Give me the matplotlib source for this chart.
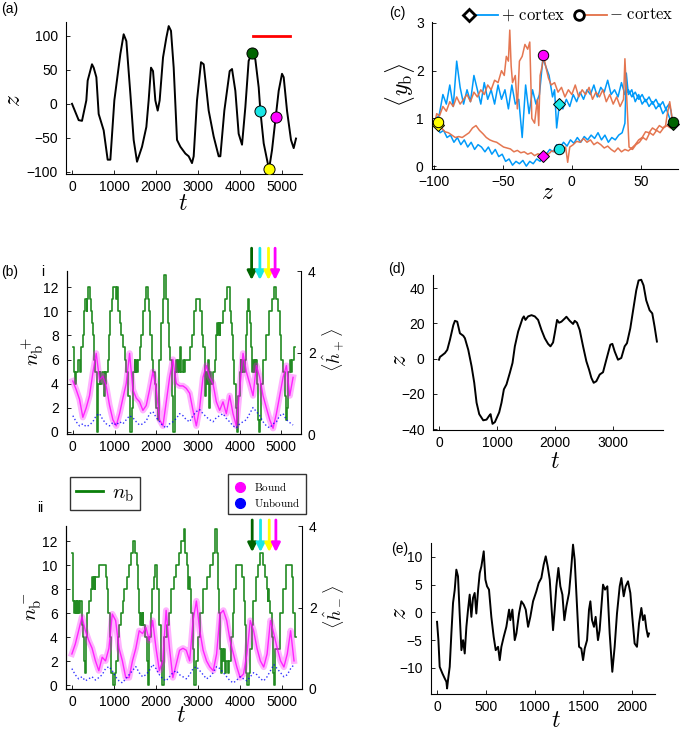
import numpy as np
import matplotlib
matplotlib.use("Agg")
import matplotlib.pyplot as plt
from matplotlib.lines import Line2D

plt.rcParams.update({"font.family": "Liberation Sans", "mathtext.fontset": "cm",
                     "axes.linewidth": 0.8, "font.size": 10})

# ---------- (a) z(t) ----------
a_pts = [(0, 0), (159, -24), (238, -25), (341, 5), (373, 34), (476, 58), (516, 53), (580, 39),
         (635, -15), (754, -39), (849, -82), (913, -82), (1008, 5), (1151, 73), (1230, 102),
         (1294, 92), (1389, 15), (1468, -53), (1548, -85), (1667, -63), (1770, -34), (1825, 5),
         (1881, 53), (1929, 48), (1984, 5), (2040, -10), (2087, 5), (2167, 68), (2246, 97),
         (2302, 114), (2357, 107), (2421, 53), (2500, -53), (2580, -63), (2699, -73), (2778, -77),
         (2857, -87), (2897, -77), (2976, 5), (3072, 61), (3135, 58), (3254, -10), (3373, -48),
         (3492, -77), (3532, -77), (3627, -10), (3754, 48), (3810, 51), (3889, 19), (3968, -44),
         (4048, -60), (4127, -5), (4206, 63), (4286, 75), (4365, 65), (4445, 24), (4484, -10),
         (4564, -58), (4643, -82), (4691, -96), (4762, -68), (4849, -20), (4921, 19), (5000, 44),
         (5040, 39), (5119, -10), (5214, -53), (5278, -65), (5333, -51)]
a_t, a_z = zip(*a_pts)
red_t = [4300, 5200]
red_z = [100, 100]
mark_t = [4286, 4484, 4691, 4849]
mark_z = [74, -10, -96, -20]
mark_col = ["#006400", "#19E6E6", "#FFFF00", "#FF00FF"]

# ---------- (b) n_b steps + mean bound / unbound ----------
nbp_pts = [(0, 7), (20, 5), (60, 4), (80, 5), (120, 6), (160, 5), (200, 7), (240, 8), (270, 10), (300, 11),
           (330, 10), (350, 11), (370, 12), (410, 11), (430, 10), (460, 9), (480, 8), (510, 6), (540, 5),
           (570, 2), (580, 0), (600, 4), (640, 5), (660, 4), (700, 5), (740, 3), (760, 5), (780, 4), (800, 5),
           (840, 6), (870, 8), (900, 10), (940, 11), (970, 12), (1040, 11), (1060, 12), (1080, 10), (1120, 9),
           (1160, 8), (1200, 7), (1240, 6), (1280, 5), (1330, 3), (1380, 0), (1420, 2), (1450, 5), (1480, 6),
           (1500, 5), (1520, 6), (1540, 5), (1570, 6), (1600, 7), (1640, 8), (1680, 10), (1720, 11), (1750, 12),
           (1800, 11), (1830, 10), (1860, 8), (1900, 6), (1930, 5), (1970, 4), (2000, 2), (2040, 1), (2070, 6),
           (2110, 9), (2150, 11), (2190, 13), (2240, 11), (2270, 9), (2300, 7), (2340, 6), (2380, 3), (2400, 0),
           (2440, 5), (2480, 6), (2500, 5), (2520, 6), (2540, 5), (2580, 7), (2600, 5), (2640, 6), (2660, 5),
           (2700, 6), (2820, 7), (2860, 8), (2900, 10), (2950, 11), (3060, 10), (3100, 8), (3130, 7), (3160, 5),
           (3180, 3), (3200, 5), (3220, 4), (3240, 6), (3260, 2), (3280, 5), (3320, 4), (3360, 5), (3400, 6),
           (3440, 8), (3460, 9), (3480, 8), (3500, 9), (3520, 8), (3540, 9), (3600, 10), (3650, 11), (3700, 12),
           (3760, 10), (3790, 9), (3810, 8), (3840, 6), (3870, 4), (3900, 2), (3940, 0), (3970, 3), (4000, 5),
           (4020, 6), (4040, 5), (4060, 6), (4080, 5), (4120, 6), (4150, 8), (4170, 10), (4200, 11), (4230, 10),
           (4250, 9), (4270, 7), (4300, 5), (4320, 6), (4340, 5), (4360, 6), (4380, 5), (4400, 6), (4420, 4),
           (4450, 1), (4470, 0), (4490, 1), (4510, 4), (4560, 6), (4630, 8), (4700, 10), (4780, 11), (4830, 12),
           (4880, 11), (4920, 10), (4960, 8), (5000, 6), (5040, 5), (5080, 3), (5110, 1), (5140, 2), (5160, 5),
           (5200, 6), (5230, 5), (5260, 6), (5300, 7), (5330, 7)]
nbm_pts = [(0, 11), (20, 10), (35, 7), (50, 6), (70, 7), (90, 6), (110, 7), (130, 6), (150, 7), (170, 6),
           (200, 7), (230, 5), (260, 4), (290, 2), (310, 1), (340, 4), (370, 6), (410, 7), (450, 8), (480, 9),
           (500, 8), (520, 9), (540, 8), (560, 9), (640, 10), (800, 9), (830, 8), (860, 6), (900, 4), (940, 1),
           (980, 0), (1020, 1), (1060, 2), (1090, 4), (1130, 5), (1170, 6), (1210, 7), (1250, 8), (1300, 9),
           (1350, 10), (1400, 11), (1460, 12), (1510, 11), (1540, 10), (1570, 8), (1600, 6), (1620, 5), (1640, 6),
           (1660, 5), (1680, 6), (1700, 5), (1740, 4), (1780, 2), (1800, 0), (1830, 4), (1870, 6), (1910, 8),
           (1940, 9), (1980, 10), (2030, 8), (2070, 5), (2110, 2), (2150, 0), (2190, 4), (2250, 5), (2300, 6),
           (2360, 8), (2420, 9), (2480, 10), (2540, 11), (2600, 12), (2660, 13), (2700, 11), (2730, 10),
           (2760, 8), (2780, 9), (2800, 8), (2830, 6), (2870, 3), (2900, 0), (2960, 2), (3000, 4), (3040, 6),
           (3120, 8), (3200, 9), (3280, 10), (3360, 11), (3400, 13), (3440, 11), (3470, 8), (3490, 6), (3510, 3),
           (3540, 1), (3570, 3), (3590, 2), (3610, 3), (3630, 1), (3660, 2), (3700, 1), (3740, 2), (3780, 4),
           (3820, 6), (3860, 8), (3900, 10), (4050, 9), (4080, 7), (4110, 5), (4140, 1), (4170, 0), (4200, 1),
           (4230, 3), (4270, 5), (4310, 7), (4370, 9), (4430, 10), (4480, 11), (4550, 10), (4590, 9), (4630, 8),
           (4650, 7), (4670, 8), (4690, 7), (4710, 6), (4750, 4), (4790, 1), (4810, 0), (4840, 3), (4940, 6),
           (5020, 8), (5100, 10), (5200, 10), (5230, 9), (5260, 6), (5300, 4), (5330, 4)]

t_avg = np.arange(0, 5281, 80)
bound_p = [1.3, 1.09, 0.85, 0.41, 0.64, 0.94, 1.5, 1.98, 1.33, 1.42, 1.18, 0.70, 0.35, 0.2, 0.5, 0.88,
           1.24, 1.98, 1.09, 0.88, 0.79, 0.58, 0.70, 1.09, 1.53, 1.09, 0.35, 0.2, 0.79, 1.39, 1.83, 1.24,
           1.18, 1.18, 1.12, 1.0, 0.58, 0.2, 0.64, 1.39, 1.68, 1.39, 1.24, 0.79, 0.58, 0.79, 0.5, 0.94,
           0.5, 0.2, 1.09, 1.98, 1.53, 1.24, 0.94, 1.68, 1.39, 0.94, 0.64, 0.35, 0.14, 0.5, 0.94, 1.39,
           1.68, 0.94, 1.39]
bound_m = [0.86, 1.1, 1.43, 1.77, 1.43, 1.19, 1.0, 0.69, 0.45, 0.78, 0.69, 1.0, 1.84, 1.68, 1.0, 0.69,
           0.28, 0.28, 0.69, 1.0, 1.43, 1.36, 1.51, 1.19, 1.68, 1.0, 0.45, 0.69, 1.93, 1.0, 0.28, 0.61,
           0.95, 1.0, 0.95, 0.69, 1.68, 2.16, 1.43, 0.95, 0.69, 0.54, 0.45, 0.86, 1.84, 1.93, 1.68, 1.19,
           0.86, 0.54, 0.28, 0.37, 0.86, 1.68, 1.43, 1.0, 0.69, 0.54, 0.86, 1.68, 1.36, 1.0, 0.69, 0.54,
           0.86, 1.43, 0.69]
unbound_p = [0.45, 0.3, 0.2, 0.25, 0.18, 0.22, 0.3, 0.45, 0.5, 0.35, 0.25, 0.2, 0.28, 0.22, 0.3, 0.25,
             0.35, 0.45, 0.4, 0.3, 0.22, 0.25, 0.32, 0.5, 0.55, 0.4, 0.3, 0.2, 0.15, 0.25, 0.3, 0.38,
             0.5, 0.45, 0.35, 0.3, 0.45, 0.55, 0.6, 0.5, 0.42, 0.35, 0.3, 0.4, 0.45, 0.5, 0.38, 0.3,
             0.2, 0.15, 0.25, 0.3, 0.35, 0.5, 0.65, 0.55, 0.45, 0.3, 0.2, 0.15, 0.25, 0.3, 0.45, 0.5,
             0.35, 0.28, 0.22]
unbound_m = [0.5, 0.35, 0.25, 0.3, 0.2, 0.25, 0.3, 0.22, 0.28, 0.35, 0.5, 0.55, 0.45, 0.3, 0.2, 0.15,
             0.25, 0.35, 0.45, 0.55, 0.4, 0.3, 0.35, 0.45, 0.6, 0.5, 0.35, 0.25, 0.2, 0.3, 0.4, 0.45,
             0.35, 0.3, 0.25, 0.35, 0.5, 0.55, 0.45, 0.35, 0.25, 0.3, 0.4, 0.55, 0.5, 0.4, 0.3, 0.2,
             0.15, 0.22, 0.3, 0.25, 0.2, 0.3, 0.4, 0.35, 0.25, 0.2, 0.3, 0.45, 0.6, 0.5, 0.4, 0.3,
             0.35, 0.5, 0.6]

# ---------- (c) <y_b> vs z ----------
blue_dn = [(73, 0.9), (72, 1.15), (70.5, 1.3), (68, 1.2), (66, 1.35), (63.5, 1.25), (61, 1.4), (58.5, 1.3),
           (56, 1.45), (53.5, 1.35), (51, 1.5), (48.5, 1.4), (46, 1.55), (43.5, 1.45), (41, 1.6), (38.5, 1.5),
           (36, 1.75), (33.5, 1.45), (31, 1.6), (28.5, 1.5), (26, 1.8), (23.5, 1.55), (21, 1.65), (18.5, 1.45),
           (16, 1.7), (13.5, 1.5), (11, 1.6), (8.5, 1.4), (6, 1.55), (3.5, 1.35), (1, 1.5), (-1.5, 1.25),
           (-4, 1.4), (-6.5, 1.2), (-9, 1.3), (-11, 0.8), (-12.5, 1.6), (-14, 1.45), (-16.5, 1.9), (-19, 2.1),
           (-21, 2.25), (-23.5, 1.5), (-26, 1.3), (-28.5, 1.6), (-31, 1.1), (-33.5, 1.7), (-36, 0.6),
           (-38.5, 1.4), (-41, 1.3), (-43.5, 1.7), (-46, 1.2), (-48.5, 1.6), (-51, 1.4), (-53.5, 1.7),
           (-56, 1.3), (-58.5, 1.6), (-61, 1.4), (-63.5, 1.75), (-66, 1.3), (-68.5, 1.6), (-71, 1.9),
           (-73.5, 1.35), (-76, 1.6), (-78.5, 1.3), (-81, 1.65), (-83.5, 2.2), (-86, 1.25), (-88.5, 1.7),
           (-91, 1.3), (-93.5, 1.5), (-96, 1.1), (-98.5, 0.95), (-100, 0.85)]
blue_up = [(-100, 0.85), (-98, 0.8), (-95.5, 0.7), (-93, 0.75), (-90.5, 0.6), (-88, 0.65), (-85.5, 0.5),
           (-83, 0.6), (-80.5, 0.45), (-78, 0.55), (-75.5, 0.4), (-73, 0.5), (-70.5, 0.35), (-68, 0.45),
           (-65.5, 0.4), (-63, 0.3), (-60.5, 0.4), (-58, 0.25), (-55.5, 0.35), (-53, 0.2), (-50.5, 0.25),
           (-48, 0.1), (-45.5, 0.15), (-43, 0.02), (-40.5, 0.1), (-38, 0.05), (-35.5, 0.12), (-33, 0.0),
           (-30.5, 0.1), (-28, 0.05), (-25.5, 0.15), (-23, 0.1), (-21, 0.21), (-18.5, 0.25), (-16, 0.35),
           (-13.5, 0.3), (-11, 0.45), (-8.5, 0.4), (-6, 0.5), (-3.5, 0.42), (-1, 0.55), (1.5, 0.48), (4, 0.6),
           (6.5, 0.5), (9, 0.62), (11.5, 0.55), (14, 0.65), (16.5, 0.58), (19, 0.7), (21.5, 0.55), (24, 0.65),
           (26.5, 0.5), (29, 0.6), (31.5, 0.55), (34, 0.65), (36.5, 0.7), (38.5, 0.9), (39.5, 1.95), (41, 1.5),
           (43.5, 1.6), (46, 1.35), (48.5, 1.5), (51, 1.3), (53.5, 1.4), (56, 1.25), (58.5, 1.35), (61, 1.2),
           (63.5, 1.3), (66, 1.1), (68.5, 1.2), (71, 1.0), (73, 0.9)]
orange_dn = [(73, 0.93), (72, 1.15), (71, 1.35), (70, 1.2), (69, 1.05), (68, 0.85), (66, 0.8), (63.5, 0.85),
             (61, 0.75), (58.5, 0.8), (56, 0.7), (53.5, 0.72), (51, 0.6), (48.5, 0.55), (46, 0.45),
             (43.5, 0.38), (41, 0.32), (38.5, 0.35), (36, 0.3), (33.5, 0.38), (31, 0.3), (28.5, 0.35),
             (26, 0.42), (23.5, 0.38), (21, 0.45), (18.5, 0.5), (16, 0.45), (13.5, 0.55), (11, 0.5),
             (8.5, 0.58), (6, 0.5), (3.5, 0.52), (1, 0.45), (-1.5, 0.4), (-3, 0.08), (-4.5, 0.4), (-7, 0.35),
             (-9.5, 0.35), (-12, 0.3), (-14.5, 0.32), (-17, 0.25), (-19.5, 0.28), (-22, 0.22), (-24.5, 0.26),
             (-27, 0.22), (-29.5, 0.28), (-32, 0.25), (-34.5, 0.3), (-37, 0.28), (-39.5, 0.33), (-42, 0.3),
             (-44.5, 0.36), (-47, 0.38), (-49.5, 0.4), (-52, 0.45), (-54.5, 0.5), (-57, 0.52), (-59.5, 0.55),
             (-62, 0.6), (-64.5, 0.68), (-67, 0.75), (-69.5, 0.85), (-72, 0.8), (-74.5, 0.7), (-77, 0.65),
             (-79.5, 0.6), (-82, 0.62), (-84.5, 0.6), (-87, 0.65), (-89.5, 0.7), (-92, 0.72), (-94.5, 0.8),
             (-97, 0.85), (-99, 0.95)]
orange_up = [(-99, 0.95), (-98, 1.1), (-96, 1.05), (-93.5, 1.25), (-91, 1.15), (-88.5, 1.35), (-86, 1.25),
             (-83.5, 1.45), (-81, 1.3), (-78.5, 1.4), (-76, 1.5), (-73.5, 1.35), (-71, 1.55), (-68.5, 1.45),
             (-66, 1.6), (-63.5, 1.5), (-61, 1.7), (-58.5, 1.6), (-56, 1.8), (-53.5, 1.75), (-51, 2.0),
             (-49, 1.9), (-47.5, 2.3), (-46, 2.2), (-45, 2.85), (-44, 2.1), (-43, 1.75), (-41, 1.9),
             (-39.5, 1.2), (-38, 2.2), (-36, 2.3), (-34, 2.55), (-32, 2.45), (-30.5, 2.6), (-29, 1.0),
             (-27, 0.9), (-25, 1.4), (-24, 0.85), (-23, 1.9), (-21.5, 2.1), (-20.5, 2.33), (-19, 2.1),
             (-17, 1.85), (-15, 1.7), (-12.5, 1.75), (-10, 1.55), (-7.5, 1.65), (-5, 1.45), (-2.5, 1.6),
             (0, 1.5), (2.5, 1.7), (5, 1.45), (7.5, 1.6), (10, 1.5), (12.5, 1.65), (15, 1.4), (17.5, 1.55),
             (20, 1.45), (22.5, 1.6), (25, 1.35), (27.5, 1.5), (30, 1.3), (32.5, 1.45), (35, 1.25),
             (37.5, 1.4), (38.5, 2.25), (40, 1.3), (41.5, 0.4), (44, 0.35), (46.5, 0.45), (49, 0.5),
             (51.5, 0.6), (54, 0.55), (56.5, 0.7), (59, 0.65), (61.5, 0.75), (64, 0.7), (66.5, 0.8),
             (69, 0.85), (71.5, 0.8), (73, 0.93)]
c_mark_z = [73.5, -9, -97, -21]
c_plus_y = [0.88, 1.3, 0.87, 0.21]
c_minus_y = [0.93, 0.35, 0.93, 2.33]

# ---------- (d) and (e) z(t) ----------
d_pts = [(0, -0.6), (17, 1), (46, 1.7), (103, 3.2), (143, 5), (189, 10.7), (247, 19), (275, 21.5), (315, 21),
         (361, 14.4), (419, 13), (447, 11.6), (505, 5), (562, -4.3), (608, -13.7), (648, -25), (694, -31.5),
         (763, -35), (820, -34.6), (866, -32.4), (889, -31.5), (923, -37), (964, -36), (1038, -30.5),
         (1078, -25), (1119, -17.4), (1164, -14.6), (1222, -8), (1268, -2.4), (1308, 7), (1365, 15.4),
         (1440, 22.8), (1463, 24), (1491, 22), (1537, 24), (1595, 24.7), (1652, 24), (1709, 22), (1767, 16.3),
         (1824, 11.6), (1881, 8.4), (1922, 7), (1967, 9.2), (1996, 14.4), (2036, 22), (2071, 20.4),
         (2111, 21), (2168, 22.8), (2197, 23.8), (2254, 21.5), (2312, 19.7), (2340, 21.5), (2380, 20.4),
         (2426, 16.3), (2484, 7), (2541, -1.5), (2587, -6.2), (2627, -10.9), (2667, -13.7), (2713, -12.8),
         (2771, -9), (2828, -7.7), (2885, -0.6), (2954, 7.9), (2989, 8.4), (3029, 4.1), (3086, -0.6),
         (3143, 0.4), (3201, 7), (3241, 8.8), (3298, 17.2), (3356, 29.4), (3401, 38.8), (3441, 44.4),
         (3487, 44.8), (3527, 41.6), (3573, 33.1), (3631, 27.5), (3677, 25.7), (3717, 18.2), (3757, 9.7)]
e_pts = [(0, -1.7), (14, -5), (27, -9.8), (55, -11), (79, -11.9), (96, -12.5), (103, -13.7), (113, -12.1),
         (130, -9.8), (147, -3.8), (164, 1.7), (181, 4), (198, 7.7), (215, 6.5), (232, -0.2), (250, -6.8),
         (267, -5), (284, -7.4), (301, -2.6), (318, 0.5), (335, 3.2), (352, -0.8), (369, 2.6), (386, 3.5),
         (403, -0.2), (421, 4), (438, 7.1), (455, 8.3), (479, 11), (496, 5.9), (513, 4.7), (533, 4.1),
         (557, -0.8), (581, -4.4), (602, -6.8), (626, -6.2), (643, -8.6), (660, -6.2), (684, -4.4),
         (711, -2.6), (739, 0.5), (752, -1.4), (773, 0.5), (797, -5), (814, -3.8), (841, -0.2), (865, 2),
         (889, 1.4), (910, 0.5), (934, -2.6), (957, -0.8), (985, 2), (1019, 3.8), (1043, 5.3), (1070, 6.2),
         (1094, 8.6), (1115, 10.1), (1135, 8.3), (1156, 5.9), (1176, 0.5), (1190, -3.2), (1207, 0.5),
         (1224, 4.7), (1245, 8), (1265, 4.7), (1286, 3.2), (1306, -1.4), (1327, 1.1), (1354, 3.5),
         (1378, 8.3), (1395, 12.2), (1412, 9.5), (1436, 1.1), (1457, -6.2), (1480, -6.5), (1498, -8.6),
         (1515, -6.5), (1539, -5), (1559, 0.5), (1573, 2), (1590, -1.4), (1610, -2.6), (1627, -0.8),
         (1651, -5), (1668, -3.2), (1703, 5), (1723, 4.1), (1747, 4.7), (1771, -3.8), (1798, -10.7),
         (1822, -6.2), (1846, -0.2), (1874, 4.7), (1891, 6.2), (1915, 2.9), (1935, 4.7), (1959, 5.6),
         (1983, 3.5), (2003, -0.8), (2027, -5.6), (2051, -6.2), (2072, -2), (2096, 0.8), (2113, -1.4),
         (2130, -0.5), (2147, -2.9), (2164, -4.4), (2174, -3.8)]

BLUE = "#009AFA"; ORANGE = "#E36F47"; GREEN = "#0A7F0A"; MAG = "#FF00FF"

W, H = 685, 733
fig = plt.figure(figsize=(6.85, 7.33), dpi=100)


def box(l, t, r, b):
    return [l / W, 1 - b / H, (r - l) / W, (b - t) / H]


def ftext(x, y, s, size=17, rot=0, **kw):
    fig.text(x / W, 1 - y / H, s, ha="center", va="center", rotation=rot, fontsize=size, **kw)


def style(ax, right=False):
    ax.spines["top"].set_visible(False)
    if not right:
        ax.spines["right"].set_visible(False)
    ax.tick_params(direction="in", length=3, width=0.6, labelsize=10)
    ax.tick_params(axis="y", pad=6)
    ax.tick_params(axis="x", pad=4)


# (a)
ax = fig.add_axes(box(66, 22, 302, 174))
ax.plot(a_t, a_z, color="black", lw=1.4)
ax.plot(red_t, red_z, color="red", lw=2)
for t, z, c in zip(mark_t, mark_z, mark_col):
    ax.plot(t, z, "o", ms=8, mfc=c, mec="black", mew=0.7, zorder=5)
ax.set_xlim(-143, 5476); ax.set_ylim(-103, 120)
ax.set_xticks([0, 1000, 2000, 3000, 4000, 5000]); ax.set_yticks([-100, -50, 0, 50, 100])
style(ax)
ftext(183, 204, "$t$"); ftext(14, 100, "$z$", rot=90)
ftext(10, 9, "(a)", size=10)


# (b)
def panel_b(rect, nb, bound, unbound, arr0, arr1, ylo, yhi):
    ax = fig.add_axes(rect)
    t, n = zip(*nb)
    ax.step(t, n, where="post", color=GREEN, lw=1.2, alpha=0.9)
    ax.set_ylim(ylo, yhi); ax.set_yticks([0, 2, 4, 6, 8, 10, 12])
    ax.set_xlim(-140, 5470); ax.set_xticks([0, 1000, 2000, 3000, 4000, 5000])
    style(ax)
    axr = ax.twinx()
    axr.plot(t_avg, bound, color=MAG, lw=4.5, alpha=0.3)
    axr.plot(t_avg, bound, color=MAG, lw=1.0, alpha=0.8)
    axr.plot(t_avg, unbound, color="blue", lw=1.0, ls=":", alpha=0.8)
    axr.set_ylim(0, 4); axr.set_yticks([0, 2, 4])
    axr.spines["top"].set_visible(False)
    axr.tick_params(direction="in", length=3, width=0.6, labelsize=10, pad=5)
    for tm, c in zip(mark_t, mark_col):
        axr.annotate("", xy=(tm, arr1), xytext=(tm, arr0),
                     xycoords=("data", "axes fraction"), textcoords=("data", "axes fraction"),
                     arrowprops=dict(arrowstyle="-|>", color=c, lw=2, mutation_scale=13,
                                     shrinkA=0, shrinkB=0), annotation_clip=False)
    return ax, axr


panel_b(box(67, 271, 301, 434), nbp_pts, bound_p, unbound_p, 1.14, 0.945, -0.17, 13.33)
ftext(33, 352, r"$n_{\rm b}^+$", size=15, rot=90)
ftext(333, 350, r"$\langle \hat{h}_+ \rangle$", size=13, rot=90)
ftext(10, 272, "(b)", size=10); ftext(43, 272, "i", size=10)

panel_b(box(66, 526, 302, 689), nbm_pts, bound_m, unbound_m, 1.037, 0.84, -0.33, 13.25)
ftext(33, 607, r"$n_{\rm b}^-$", size=15, rot=90)
ftext(334, 607, r"$\langle \hat{h}_- \rangle$", size=13, rot=90)
ftext(181, 716, "$t$")
ftext(40, 508, "ii", size=10)

leg1 = fig.legend([Line2D([], [], color=GREEN, lw=2)], [r"$n_{\rm b}$"], loc="upper left",
                  bbox_to_anchor=(70 / W, 1 - 477 / H), fontsize=15, frameon=True, fancybox=False,
                  handlelength=1.3, handletextpad=0.4, borderpad=0.3, borderaxespad=0)
leg1.get_frame().set_edgecolor("black"); leg1.get_frame().set_linewidth(1.0)
leg2 = fig.legend([Line2D([], [], ls="", marker="o", ms=7, color=MAG),
                   Line2D([], [], ls="", marker="o", ms=7, color="blue")],
                  [r"$\mathrm{Bound}$", r"$\mathrm{Unbound}$"], loc="upper left",
                  bbox_to_anchor=(228 / W, 1 - 474 / H), fontsize=8, frameon=True, fancybox=False,
                  handlelength=1.2, handletextpad=0.6, borderpad=0.5, borderaxespad=0, labelspacing=0.3)
leg2.get_frame().set_edgecolor("black"); leg2.get_frame().set_linewidth(1.0)

# (c)
ax = fig.add_axes(box(432, 22, 678, 169))
bz, by = zip(*(blue_dn + blue_up))
oz, oy = zip(*(orange_dn + orange_up))
ax.plot(bz, by, color=BLUE, lw=1.1)
ax.plot(oz, oy, color=ORANGE, lw=1.1, alpha=0.95)
for z, yp, ym, c in zip(c_mark_z, c_plus_y, c_minus_y, mark_col):
    ax.plot(z, yp, "D", ms=6, mfc=c, mec="black", mew=0.7, zorder=5, clip_on=False)
    ax.plot(z, ym, "o", ms=7.5, mfc=c, mec="black", mew=0.7, zorder=5, clip_on=False)
ax.set_xlim(-101.4, 77); ax.set_ylim(-0.06, 3.02)
ax.set_xticks([-100, -50, 0, 50]); ax.set_yticks([0, 1, 2, 3])
style(ax)
ax.plot([0.175, 0.268], [1.05, 1.05], transform=ax.transAxes, color=BLUE, lw=1.3, clip_on=False)
ax.plot([0.15], [1.05], "D", transform=ax.transAxes, ms=6, mfc="white", mec="black", mew=2, clip_on=False)
ax.text(0.28, 1.05, r"$+\ \mathrm{cortex}$", transform=ax.transAxes, fontsize=12, va="center")
ax.plot([0.622, 0.711], [1.05, 1.05], transform=ax.transAxes, color=ORANGE, lw=1.3, clip_on=False)
ax.plot([0.598], [1.05], "o", transform=ax.transAxes, ms=7, mfc="white", mec="black", mew=2, clip_on=False)
ax.text(0.72, 1.05, r"$-\ \mathrm{cortex}$", transform=ax.transAxes, fontsize=12, va="center")
ftext(548, 193, "$z$"); ftext(400, 85, r"$\langle y_{\rm b} \rangle$", rot=90)
ftext(397, 13, "(c)", size=10)

# (d)
ax = fig.add_axes(box(433, 275, 663, 430))
dt, dz = zip(*d_pts)
ax.plot(dt, dz, color="black", lw=1.4)
ax.set_xlim(-103, 3862); ax.set_ylim(-40.5, 47.5)
ax.set_xticks([0, 1000, 2000, 3000]); ax.set_yticks([-40, -20, 0, 20, 40])
style(ax)
ftext(555, 462, "$t$"); ftext(400, 360, "$z$", rot=90)
ftext(397, 269, "(d)", size=10)

# (e)
ax = fig.add_axes(box(431, 543, 655, 694))
et, ez = zip(*e_pts)
ax.plot(et, ez, color="black", lw=1.4)
ax.set_xlim(-62, 2236); ax.set_ylim(-14.7, 12.5)
ax.set_xticks([0, 500, 1000, 1500, 2000]); ax.set_yticks([-10, -5, 0, 5, 10])
style(ax)
ftext(556, 721, "$t$"); ftext(400, 613, "$z$", rot=90)
ftext(400, 549, "(e)", size=10)

fig.savefig("out.png", dpi=100)
